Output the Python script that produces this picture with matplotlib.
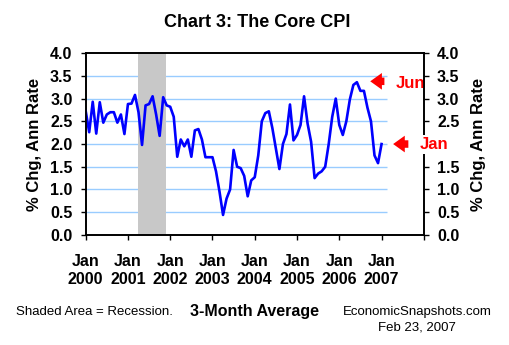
import numpy as np
import matplotlib.pyplot as plt

plt.rcParams['font.family'] = ['Liberation Sans', 'DejaVu Sans']

# Core CPI, 3-month average, % change at annual rate, Jan 2000 - Jan 2007
core_cpi = [
    2.73, 2.26, 2.93, 2.23, 2.92, 2.47, 2.65, 2.70, 2.70, 2.47, 2.65, 2.22,  # 2000
    2.88, 2.89, 3.08, 2.70, 1.98, 2.85, 2.88, 3.05, 2.65, 2.18, 3.03, 2.85,  # 2001
    2.82, 2.60, 1.72, 2.10, 1.95, 2.10, 1.72, 2.30, 2.33, 2.10, 1.71, 1.71,  # 2002
    1.71, 1.40, 0.95, 0.44, 0.80, 1.00, 1.87, 1.50, 1.47, 1.30, 0.85, 1.20,  # 2003
    1.27, 1.75, 2.50, 2.68, 2.72, 2.35, 1.90, 1.45, 2.00, 2.22, 2.87, 2.08,  # 2004
    2.20, 2.42, 3.05, 2.45, 2.05, 1.25, 1.35, 1.40, 1.50, 2.00, 2.60, 3.00,  # 2005
    2.42, 2.20, 2.50, 2.98, 3.30, 3.36, 3.17, 3.17, 2.80, 2.50, 1.75, 1.58,  # 2006
    2.00,                                                                    # 2007
]
years = list(range(2000, 2008))
tick_labels = [f"Jan\n{y}" for y in years]

# recession: Mar 2001 - Nov 2001 (months since Jan 2000)
rec_start, rec_end = 14, 22
peak_label = "Jun"
last_label = "Jan"

months = np.arange(len(core_cpi))

fig = plt.figure(figsize=(5.1, 3.45), dpi=100)
ax = fig.add_axes([0.168, 0.319, 0.663, 0.527])

ax.axvspan(rec_start + 0.75, rec_end + 0.7, color='#C8C8C8', lw=0, zorder=1)
grid_levels = np.arange(0.5, 4.0, 0.5)
ax.hlines(grid_levels, 0, len(core_cpi) + 0.5, color='#99CCFF', lw=1, zorder=0)
ax.plot(months, core_cpi, color='#0000FF', lw=1.9, zorder=3)

ax.set_xlim(0, 96)
ax.set_ylim(0, 4)
ax.set_xticks(np.arange(0, 97, 12))
ax.set_xticklabels(tick_labels + [""], fontsize=11.5, fontweight='bold',
                   linespacing=1.3)
yt = np.arange(0, 4.01, 0.5)
ax.set_yticks(yt)
ax.set_yticklabels([f"{v:.1f}" for v in yt], fontsize=11.5, fontweight='bold')
ax.tick_params(axis='y', direction='out', length=3.5, width=1, pad=6)
ax.tick_params(axis='x', direction='out', length=3.5, width=1, pad=10)
ax.set_ylabel("% Chg, Ann Rate", fontsize=12, fontweight='bold', labelpad=6)
for s in ax.spines.values():
    s.set_linewidth(1.2)

# right axis repeats the scale; the 2.0 label sits under the "Jan" marker
ax2 = ax.twinx()
ax2.set_ylim(0, 4)
ax2.set_yticks(yt)
ax2.set_yticklabels(["" if v == 2.0 else f"{v:.1f}" for v in yt],
                    fontsize=11.5, fontweight='bold')
ax2.tick_params(axis='y', direction='out', length=3.5, width=1, pad=6)
ax2.set_ylabel("% Chg, Ann Rate", fontsize=12, fontweight='bold', labelpad=8,
               rotation=90)
ax2.yaxis.set_label_position('right')
for s in ax2.spines.values():
    s.set_linewidth(1.2)

# arrows to the June 2006 peak and the latest reading
arrow = dict(arrowstyle="simple,head_length=0.7,head_width=1.0,tail_width=0.45",
             color='#FF0000', lw=0, mutation_scale=12)
peak_m = int(np.argmax(core_cpi))
peak_v = core_cpi[peak_m]
ax.annotate("", xy=(peak_m + 3, peak_v + 0.02), xytext=(peak_m + 8.6, peak_v + 0.02),
            arrowprops=arrow, annotation_clip=False, zorder=5)
ax.text(peak_m + 11, peak_v - 0.03, peak_label, color='#FF0000', fontsize=12,
        fontweight='bold', va='center', ha='left', clip_on=False, zorder=5)

last_m = len(core_cpi) - 1
last_v = core_cpi[-1]
ax.annotate("", xy=(last_m + 2.5, last_v), xytext=(last_m + 8.4, last_v),
            arrowprops=arrow, annotation_clip=False, zorder=5)
ax2.text(last_m + 14.8, last_v, last_label, color='#FF0000', fontsize=12,
         fontweight='bold', va='center', ha='center', clip_on=False, zorder=5,
         bbox=dict(facecolor='white', edgecolor='none', pad=1.5))

fig.text(0.505, 0.935, "Chart 3: The Core CPI", fontsize=13, fontweight='bold',
         ha='center', va='center')
fig.text(0.031, 0.097, "Shaded Area = Recession.", fontsize=9.5, ha='left', va='center')
fig.text(0.5, 0.097, "3-Month Average", fontsize=11.5, fontweight='bold',
         ha='center', va='center')
fig.text(0.965, 0.097, "EconomicSnapshots.com", fontsize=9.5, ha='right', va='center')
fig.text(0.894, 0.05, "Feb 23, 2007", fontsize=9.5, ha='right', va='center')

fig.savefig("out.png", dpi=100)
